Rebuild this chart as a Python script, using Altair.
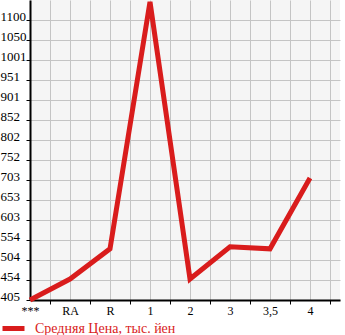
import altair as alt
import pandas as pd

categories = ["***", "RA", "R", "1", "2", "3", "3,5", "4"]
values = [405, 457, 532, 1145, 457, 537, 532, 708]
y_tick_labels = ["405", "454", "504", "554", "603", "653", "703", "752",
                 "802", "852", "901", "951", "1001", "1050", "1100"]
series_name = "Средняя Цена, тыс. йен"

RED = "#d91c1c"
FONT = "Liberation Serif"

y_min = 405
y_step = 49.643
y_ticks = [y_min + i * y_step for i in range(len(y_tick_labels))]
y_max = y_min + len(y_tick_labels) * y_step

df = pd.DataFrame({
    "idx": list(range(len(categories))),
    "cat": categories,
    "value": values,
    "series": [series_name] * len(categories),
})

x_vals = [i * 0.5 for i in range(2 * len(categories))]
cat_arr = "[" + ",".join("'" + c + "'" for c in categories) + "]"
x_label_expr = f"datum.value % 1 == 0 ? {cat_arr}[round(datum.value)] : ''"
ylab_arr = "[" + ",".join("'" + s + "'" for s in y_tick_labels) + "]"
y_label_expr = f"{ylab_arr}[round((datum.value - {y_min}) / {y_step})]"

chart = alt.Chart(df).mark_line(
    strokeWidth=5, strokeCap="butt", strokeJoin="miter", clip=False
).encode(
    x=alt.X("idx:Q",
            scale=alt.Scale(domain=[0, 7.75], nice=False, zero=False),
            axis=alt.Axis(
                values=x_vals, title=None, grid=True, gridColor="#c4c4c4",
                gridWidth=1, tickSize=4, tickColor="black", tickWidth=1,
                tickOpacity={"condition": {"test": "datum.value % 1 == 0", "value": 0}, "value": 1},
                labelExpr=x_label_expr, labelFont=FONT, labelFontSize=12,
                labelColor="black", labelPadding=1, labelFlush=False,
                labelOverlap=False, domainColor="black", domainWidth=2,
            )),
    y=alt.Y("value:Q",
            scale=alt.Scale(domain=[y_min, y_max], nice=False, zero=False),
            axis=alt.Axis(
                values=y_ticks, title=None, grid=True, gridColor="#c4c4c4",
                gridWidth=1, tickSize=4, tickColor="black", tickWidth=1,
                labelExpr=y_label_expr, labelFont=FONT, labelFontSize=13,
                labelColor="black", labelAlign="left", labelBaseline="alphabetic",
                labelPadding=26, labelOverlap=False, labelFlush=False,
                domainColor="black", domainWidth=2,
            )),
    color=alt.Color("series:N",
                    scale=alt.Scale(domain=[series_name], range=[RED]),
                    legend=alt.Legend(
                        title=None, orient="none", legendX=-30, legendY=315,
                        symbolType="stroke", symbolStrokeWidth=5, symbolSize=484,
                        labelFont=FONT, labelFontSize=14, labelColor=RED,
                        labelOffset=8, padding=0,
                    )),
    order="idx:Q",
).properties(
    width=310, height=300,
    autosize=alt.AutoSizeParams(type="none"),
    padding={"left": 30, "top": 0, "right": 5, "bottom": 35},
).configure_view(
    fill="#f5f5f5", stroke=None
)

chart.save("out.html", embed_options={"renderer": "svg", "actions": False})
